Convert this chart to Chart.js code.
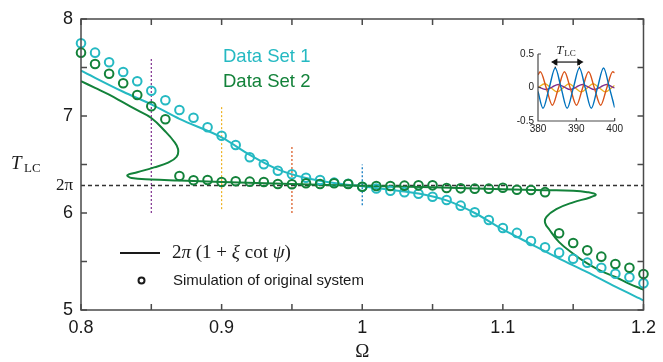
<!DOCTYPE html>
<html>
<head>
<meta charset="utf-8">
<script src="https://cdn.jsdelivr.net/npm/chart.js@4.4.1/dist/chart.umd.min.js"></script>
<style>
  html, body { margin: 0; padding: 0; background: #fff; }
  #wrap { position: relative; width: 663px; height: 362px; }
  #mainChart { position: absolute; left: 0; top: 0; }
  #insetChart { position: absolute; left: 505px; top: 35px; }
</style>
</head>
<body>
<div id="wrap">
  <canvas id="mainChart" width="663" height="362"></canvas>
  <canvas id="insetChart" width="120" height="102"></canvas>
</div>
<script>
const TWO_PI = 2 * Math.PI;

// simulation points (circles)
const omegaSim = [0.80, 0.81, 0.82, 0.83, 0.84, 0.85, 0.86, 0.87, 0.88, 0.89,
                  0.90, 0.91, 0.92, 0.93, 0.94, 0.95, 0.96, 0.97, 0.98, 0.99,
                  1.00, 1.01, 1.02, 1.03, 1.04, 1.05, 1.06, 1.07, 1.08, 1.09,
                  1.10, 1.11, 1.12, 1.13, 1.14, 1.15, 1.16, 1.17, 1.18, 1.19, 1.20];
const set1Sim = [7.749, 7.653, 7.554, 7.454, 7.358, 7.261, 7.162, 7.062, 6.982, 6.884,
                 6.797, 6.701, 6.574, 6.502, 6.436, 6.399, 6.364, 6.340, 6.313, 6.302,
                 6.271, 6.252, 6.230, 6.215, 6.199, 6.168, 6.134, 6.076, 6.007, 5.928,
                 5.845, 5.795, 5.712, 5.646, 5.591, 5.529, 5.488, 5.436, 5.374, 5.337, 5.275];
const set2Sim = [7.653, 7.536, 7.436, 7.337, 7.216, 7.100, 6.966, 6.381, 6.337, 6.340,
                 6.320, 6.327, 6.323, 6.320, 6.299, 6.296, 6.306, 6.299, 6.306, 6.299,
                 6.271, 6.278, 6.278, 6.282, 6.285, 6.285, 6.258, 6.254, 6.251, 6.251,
                 6.261, 6.240, 6.237, 6.215, 5.791, 5.691, 5.615, 5.550, 5.474, 5.436, 5.371];

// theory curves 2pi(1 + xi cot psi)
const set1TheoryOmega = [0.80, 0.83, 0.85, 0.87, 0.90, 0.92, 0.94, 0.96, 0.98, 1.00,
                         1.02, 1.04, 1.06, 1.08, 1.10, 1.12, 1.14, 1.16, 1.18, 1.20];
const set1TheoryT = [7.467, 7.25, 7.12, 6.97, 6.78, 6.60, 6.45, 6.36, 6.31, 6.275,
                     6.24, 6.20, 6.13, 6.00, 5.83, 5.68, 5.53, 5.39, 5.24, 5.10];
const set2TheoryOmega = [0.800, 0.810, 0.820, 0.830, 0.840, 0.850, 0.860, 0.866, 0.869, 0.868,
                         0.862, 0.852, 0.840, 0.833, 0.836, 0.850, 0.870, 0.900, 0.950, 1.000,
                         1.050, 1.100, 1.130, 1.150, 1.160, 1.166, 1.162, 1.150, 1.138, 1.131,
                         1.130, 1.133, 1.140, 1.150, 1.160, 1.170, 1.180, 1.190, 1.200];
const set2TheoryT = [7.36, 7.29, 7.22, 7.14, 7.06, 6.98, 6.84, 6.74, 6.66, 6.58,
                     6.52, 6.47, 6.42, 6.39, 6.36, 6.345, 6.335, 6.32, 6.30, 6.28,
                     6.265, 6.245, 6.235, 6.23, 6.215, 6.19, 6.16, 6.11, 6.04, 5.96,
                     5.90, 5.83, 5.70, 5.58, 5.48, 5.40, 5.34, 5.27, 5.21];

// dotted guides at the inset frequencies
const guideOmega = [0.85, 0.90, 0.95, 1.00];
const guideLow = [6.00, 6.04, 6.00, 6.08];
const guideHigh = [7.60, 7.10, 6.68, 6.50];
const guideColors = ["#7E2F8E", "#EDB120", "#D95319", "#0072BD"];

const xTicks = [0.8, 0.85, 0.9, 0.95, 1.0, 1.05, 1.1, 1.15, 1.2];
const xTickLabels = ["0.8", "", "0.9", "", "1", "", "1.1", "", "1.2"];
const yTicks = [5, 5.5, 6, TWO_PI, 6.5, 7, 7.5, 8];
const yTickLabels = ["5", "", "6", "2\u03C0", "", "7", "", "8"];

// inset time series
const insetBlueT = [380, 381.3, 382.9, 384.5, 386.05, 387.6, 389.2, 390.8, 392.35, 393.9, 395.5, 397.1, 398.65, 400];
const insetBlueV = [-0.06, -0.31, -0.01, 0.29, -0.01, -0.31, -0.01, 0.29, -0.01, -0.31, -0.01, 0.29, -0.01, -0.30];
const insetRedT = [380, 380.6, 382.2, 383.75, 385.3, 386.9, 388.45, 390.05, 391.6, 393.2, 394.75, 396.35, 397.9, 399.5, 400];
const insetRedV = [0.19, 0.235, -0.015, -0.265, -0.015, 0.235, -0.015, -0.265, -0.015, 0.235, -0.015, -0.265, -0.015, 0.235, 0.22];
const insetYellowT = [380, 381.8, 383.4, 385.0, 386.55, 388.1, 389.7, 391.3, 392.85, 394.4, 396.0, 397.6, 399.15, 400];
const insetYellowV = [0.0, 0.055, -0.005, -0.065, -0.005, 0.055, -0.005, -0.065, -0.005, 0.055, -0.005, -0.065, -0.005, 0.03];
const insetPurpleT = [380, 382.1, 383.7, 385.3, 386.85, 388.4, 390.0, 391.6, 393.15, 394.7, 396.3, 397.9, 399.45, 400];
const insetPurpleV = [0.01, -0.03, 0.007, 0.045, 0.007, -0.03, 0.007, 0.045, 0.007, -0.03, 0.007, 0.045, 0.007, -0.005];
const periodMarks = [384.5, 390.8];
const peakLevel = 0.29;
const arrowLevel = 0.38;
const insetXTicks = [380, 390, 400];
const insetYTicks = [-0.5, 0, 0.5];
const insetYTickLabels = ["-0.5", "0", "0.5"];

const CYAN = "#25B9C2";
const GREEN = "#13823A";
const AXIS = "#4a4a4a";
const SANS = "'Liberation Sans', Arial, sans-serif";
const SERIF = "'Liberation Serif', 'Times New Roman', serif";

function pairs(xs, ys) {
    return xs.map((x, i) => ({ x: x, y: ys[i] }));
}

/**
 * draws a run of text pieces, some italic
 */
function drawRuns(ctx, runs, x, y, size) {
    runs.forEach(r => {
        ctx.font = (r[1] ? "italic " : "") + size + "px " + SERIF;
        ctx.fillText(r[0], x, y);
        x += ctx.measureText(r[0]).width;
    });
}

// box + inward ticks + labels, matlab style
const mainFrame = {
    id: "mainFrame",
    afterDraw(chart) {
        const ctx = chart.ctx;
        const a = chart.chartArea;
        const xs = chart.scales.x, ys = chart.scales.y;
        ctx.save();
        ctx.strokeStyle = AXIS;
        ctx.lineWidth = 1.5;
        ctx.strokeRect(a.left, a.top, a.right - a.left, a.bottom - a.top);

        ctx.beginPath();
        xTicks.forEach(v => {
            const px = xs.getPixelForValue(v);
            ctx.moveTo(px, a.bottom); ctx.lineTo(px, a.bottom - 6);
            ctx.moveTo(px, a.top); ctx.lineTo(px, a.top + 6);
        });
        yTicks.forEach(v => {
            if (v === TWO_PI) return;
            const py = ys.getPixelForValue(v);
            ctx.moveTo(a.left, py); ctx.lineTo(a.left + 6, py);
            ctx.moveTo(a.right, py); ctx.lineTo(a.right - 6, py);
        });
        ctx.stroke();

        // axis labels
        ctx.fillStyle = "#1a1a1a";
        ctx.textBaseline = "middle";
        ctx.textAlign = "left";
        ctx.font = "italic 19px " + SERIF;
        ctx.fillText("T", 11, 164);
        ctx.font = "13px " + SERIF;
        ctx.fillText("LC", 24, 169);
        ctx.textAlign = "center";
        ctx.font = "19px " + SERIF;
        ctx.fillText("\u03A9", (a.left + a.right) / 2, 352);

        // data set labels
        ctx.textAlign = "left";
        ctx.font = "18.5px " + SANS;
        ctx.fillStyle = CYAN;
        ctx.fillText("Data Set 1", 223, 57);
        ctx.fillStyle = GREEN;
        ctx.fillText("Data Set 2", 223, 82);

        // lower legend
        ctx.strokeStyle = "#1a1a1a";
        ctx.lineWidth = 2;
        ctx.beginPath();
        ctx.moveTo(120, 253); ctx.lineTo(160, 253);
        ctx.stroke();
        ctx.beginPath();
        ctx.arc(141.5, 280.5, 3, 0, Math.PI * 2);
        ctx.stroke();
        ctx.fillStyle = "#1a1a1a";
        drawRuns(ctx, [["2", false], ["\u03C0", true], [" (1 + ", false], ["\u03BE", true],
                       [" cot ", false], ["\u03C8", true], [")", false]], 172, 253, 19);
        ctx.font = "15px " + SANS;
        ctx.fillText("Simulation of original system", 173, 281);
        ctx.restore();
    }
};

const guideSets = guideOmega.map((w, i) => ({
    data: [{ x: w, y: guideLow[i] }, { x: w, y: guideHigh[i] }],
    showLine: true,
    borderColor: guideColors[i],
    borderWidth: 1.2,
    borderDash: [2, 2],
    pointRadius: 0,
    order: 3
}));

new Chart(document.getElementById("mainChart"), {
    type: "scatter",
    data: {
        datasets: [
            {
                data: pairs(omegaSim, set2Sim),
                borderColor: GREEN,
                backgroundColor: "rgba(0,0,0,0)",
                pointRadius: 4.3,
                pointBorderWidth: 2,
                clip: false,
                order: 0
            },
            {
                data: pairs(omegaSim, set1Sim),
                borderColor: CYAN,
                backgroundColor: "rgba(0,0,0,0)",
                pointRadius: 4.3,
                pointBorderWidth: 2,
                clip: false,
                order: 1
            },
            {
                data: pairs(set2TheoryOmega, set2TheoryT),
                showLine: true,
                borderColor: GREEN,
                borderWidth: 2,
                tension: 0.4,
                pointRadius: 0,
                order: 2
            },
            {
                data: pairs(set1TheoryOmega, set1TheoryT),
                showLine: true,
                borderColor: CYAN,
                borderWidth: 2,
                cubicInterpolationMode: "monotone",
                pointRadius: 0,
                order: 2
            },
            {
                data: [{ x: xTicks[0], y: TWO_PI }, { x: xTicks[xTicks.length - 1], y: TWO_PI }],
                showLine: true,
                borderColor: "#333",
                borderWidth: 1.5,
                borderDash: [4, 3],
                pointRadius: 0,
                order: 4
            },
            ...guideSets
        ]
    },
    options: {
        responsive: false,
        animation: false,
        devicePixelRatio: 1,
        layout: { padding: { top: 19, right: 14, left: 0, bottom: 0 } },
        plugins: { legend: { display: false }, tooltip: { enabled: false } },
        scales: {
            x: {
                type: "linear",
                min: 0.8,
                max: 1.2,
                grid: { display: false, drawTicks: false },
                border: { display: false },
                afterBuildTicks: s => { s.ticks = xTicks.map(v => ({ value: v })); },
                afterFit: s => { s.height = 52; },
                ticks: {
                    autoSkip: false,
                    maxRotation: 0,
                    padding: 7,
                    color: "#1a1a1a",
                    font: { family: SANS, size: 18 },
                    callback: (v, i) => xTickLabels[i]
                }
            },
            y: {
                type: "linear",
                min: 5,
                max: 8,
                grid: { display: false, drawTicks: false },
                border: { display: false },
                afterBuildTicks: s => { s.ticks = yTicks.map(v => ({ value: v })); },
                afterFit: s => { s.width = 81; },
                ticks: {
                    autoSkip: false,
                    padding: 8,
                    color: "#1a1a1a",
                    font: c => (c.tick && c.tick.value === TWO_PI)
                        ? { family: SERIF, size: 17 }
                        : { family: SANS, size: 18 },
                    callback: (v, i) => yTickLabels[i]
                }
            }
        }
    },
    plugins: [mainFrame]
});

// inset: axes on left and bottom only, plus the T_LC label
const insetFrame = {
    id: "insetFrame",
    afterDraw(chart) {
        const ctx = chart.ctx;
        const a = chart.chartArea;
        const xs = chart.scales.x, ys = chart.scales.y;
        ctx.save();
        ctx.strokeStyle = AXIS;
        ctx.lineWidth = 1.2;
        ctx.beginPath();
        ctx.moveTo(a.left, a.top); ctx.lineTo(a.left, a.bottom); ctx.lineTo(a.right, a.bottom);
        insetXTicks.forEach(v => {
            const px = xs.getPixelForValue(v);
            ctx.moveTo(px, a.bottom); ctx.lineTo(px, a.bottom - 3);
        });
        insetYTicks.forEach(v => {
            const py = ys.getPixelForValue(v);
            ctx.moveTo(a.left, py); ctx.lineTo(a.left + 3, py);
        });
        ctx.stroke();
        const cx = (xs.getPixelForValue(periodMarks[0]) + xs.getPixelForValue(periodMarks[1])) / 2;
        ctx.fillStyle = "#1a1a1a";
        ctx.textBaseline = "middle";
        ctx.font = "italic 13px " + SERIF;
        ctx.fillText("T", cx - 11, 16);
        ctx.font = "9px " + SERIF;
        ctx.fillText("LC", cx - 3, 19);
        ctx.restore();
    }
};

function insetLine(ts, vs, color) {
    return {
        data: pairs(ts, vs),
        showLine: true,
        borderColor: color,
        borderWidth: 1.4,
        cubicInterpolationMode: "monotone",
        pointRadius: 0
    };
}

new Chart(document.getElementById("insetChart"), {
    type: "scatter",
    data: {
        datasets: [
            {
                data: periodMarks.map(t => ({ x: t, y: arrowLevel })),
                showLine: true,
                borderColor: "#111",
                backgroundColor: "#111",
                borderWidth: 1.2,
                pointStyle: "triangle",
                pointRadius: 3,
                pointRotation: [-90, 90],
                clip: false
            },
            {
                data: [{ x: periodMarks[0], y: peakLevel }, { x: periodMarks[0], y: arrowLevel + 0.03 }],
                showLine: true, borderColor: "#111", borderWidth: 1, borderDash: [1.5, 1.5], pointRadius: 0
            },
            {
                data: [{ x: periodMarks[1], y: peakLevel }, { x: periodMarks[1], y: arrowLevel + 0.03 }],
                showLine: true, borderColor: "#111", borderWidth: 1, borderDash: [1.5, 1.5], pointRadius: 0
            },
            insetLine(insetBlueT, insetBlueV, "#0072BD"),
            insetLine(insetRedT, insetRedV, "#D95319"),
            insetLine(insetPurpleT, insetPurpleV, "#7E2F8E"),
            insetLine(insetYellowT, insetYellowV, "#EDB120")
        ]
    },
    options: {
        responsive: false,
        animation: false,
        devicePixelRatio: 1,
        layout: { padding: { top: 19, right: 7, left: 0, bottom: 0 } },
        plugins: { legend: { display: false }, tooltip: { enabled: false } },
        scales: {
            x: {
                type: "linear",
                min: 380,
                max: 400,
                grid: { display: false, drawTicks: false },
                border: { display: false },
                afterBuildTicks: s => { s.ticks = insetXTicks.map(v => ({ value: v })); },
                afterFit: s => { s.height = 16; },
                ticks: { autoSkip: false, maxRotation: 0, padding: 2, color: "#1a1a1a", font: { family: SANS, size: 10 } }
            },
            y: {
                type: "linear",
                min: -0.5,
                max: 0.5,
                grid: { display: false, drawTicks: false },
                border: { display: false },
                afterBuildTicks: s => { s.ticks = insetYTicks.map(v => ({ value: v })); },
                afterFit: s => { s.width = 33; },
                ticks: {
                    autoSkip: false, padding: 4, color: "#1a1a1a",
                    font: { family: SANS, size: 10 },
                    callback: (v, i) => insetYTickLabels[i]
                }
            }
        }
    },
    plugins: [insetFrame]
});
</script>
</body>
</html>
